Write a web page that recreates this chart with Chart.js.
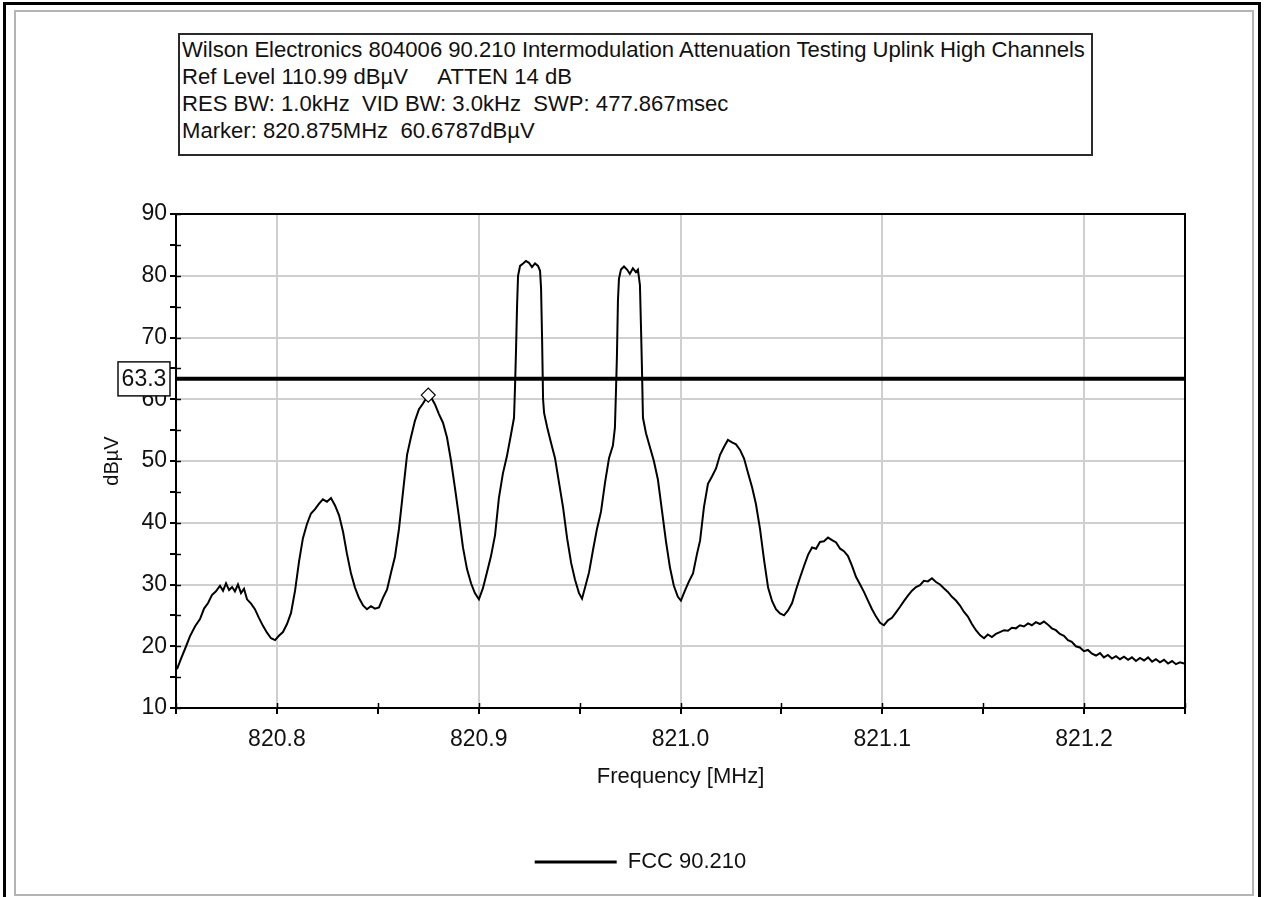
<!DOCTYPE html>
<html>
<head>
<meta charset="utf-8">
<title>Intermodulation Attenuation Testing</title>
<script src="https://cdn.jsdelivr.net/npm/chart.js@4.4.1/dist/chart.umd.min.js"></script>
<style>
  html, body { margin: 0; padding: 0; background: #fff; }
  body { width: 1267px; height: 897px; position: relative; overflow: hidden; font-family: "Liberation Sans", Arial, sans-serif; }
  #c { position: absolute; left: 0; top: 0; }
  .frame-outer { position: absolute; left: 3px; top: 2px; width: 1252px; height: 900px; border: 3px solid #000; border-bottom: none; pointer-events: none; }
  .frame-inner { position: absolute; left: 14px; top: 10px; width: 1236px; height: 882px; border: 2px solid #b4b4b4; pointer-events: none; }
  #info { position: absolute; left: 178px; top: 33px; width: 909px; height: 118px; border: 2px solid #2a2a2a; background: #fff; color: #111; padding: 1px 0 0 2px; box-sizing: content-box; white-space: nowrap; overflow: hidden; }
  #info div { line-height: 27px; height: 27px; }
</style>
</head>
<body>
<canvas id="c" width="1267" height="897"></canvas>
<div class="frame-outer"></div>
<div class="frame-inner"></div>
<div id="info"></div>
<script>
// Analyzer header lines
const headerLines = [
  'Wilson Electronics 804006 90.210 Intermodulation Attenuation Testing Uplink High Channels',
  'Ref Level 110.99 dBµV     ATTEN 14 dB',
  'RES BW: 1.0kHz  VID BW: 3.0kHz  SWP: 477.867msec',
  'Marker: 820.875MHz  60.6787dBµV'
];

// Measured trace: frequency (MHz) and level (dBµV)
const freqMHz = [
  820.7505, 820.7525, 820.7550, 820.7569, 820.7594, 820.7619, 820.7639, 820.7659, 820.7678, 820.7698,
  820.7718, 820.7733, 820.7748, 820.7763, 820.7778, 820.7792, 820.7807, 820.7822, 820.7837, 820.7852,
  820.7872, 820.7891, 820.7911, 820.7931, 820.7951, 820.7971, 820.7991, 820.8010, 820.8030, 820.8050,
  820.8070, 820.8090, 820.8110, 820.8129, 820.8149, 820.8169, 820.8189, 820.8209, 820.8228, 820.8248,
  820.8268, 820.8288, 820.8308, 820.8328, 820.8347, 820.8367, 820.8387, 820.8407, 820.8427, 820.8446,
  820.8466, 820.8486, 820.8506, 820.8525, 820.8546, 820.8566, 820.8585, 820.8605, 820.8625, 820.8645,
  820.8664, 820.8684, 820.8704, 820.8724, 820.8744, 820.8754, 820.8764, 820.8783, 820.8803, 820.8823,
  820.8843, 820.8863, 820.8883, 820.8902, 820.8922, 820.8942, 820.8962, 820.8981, 820.9001, 820.9021,
  820.9041, 820.9061, 820.9081, 820.9100, 820.9120, 820.9140, 820.9160, 820.9175, 820.9180, 820.9185,
  820.9190, 820.9195, 820.9205, 820.9220, 820.9234, 820.9249, 820.9264, 820.9279, 820.9294, 820.9304,
  820.9309, 820.9314, 820.9319, 820.9324, 820.9339, 820.9358, 820.9378, 820.9398, 820.9418, 820.9438,
  820.9458, 820.9477, 820.9497, 820.9512, 820.9527, 820.9547, 820.9566, 820.9586, 820.9606, 820.9626,
  820.9646, 820.9665, 820.9675, 820.9680, 820.9685, 820.9690, 820.9695, 820.9705, 820.9720, 820.9735,
  820.9749, 820.9764, 820.9779, 820.9789, 820.9799, 820.9804, 820.9809, 820.9814, 820.9829, 820.9849,
  820.9868, 820.9888, 820.9908, 820.9928, 820.9948, 820.9967, 820.9987, 821.0002, 821.0022, 821.0042,
  821.0062, 821.0082, 821.0097, 821.0116, 821.0136, 821.0156, 821.0176, 821.0196, 821.0216, 821.0235,
  821.0255, 821.0275, 821.0295, 821.0315, 821.0335, 821.0355, 821.0374, 821.0394, 821.0414, 821.0434,
  821.0454, 821.0473, 821.0493, 821.0513, 821.0533, 821.0553, 821.0573, 821.0592, 821.0612, 821.0632,
  821.0652, 821.0672, 821.0691, 821.0711, 821.0731, 821.0751, 821.0771, 821.0791, 821.0810, 821.0830,
  821.0850, 821.0870, 821.0890, 821.0909, 821.0929, 821.0949, 821.0969, 821.0989, 821.1008, 821.1028,
  821.1048, 821.1068, 821.1088, 821.1107, 821.1127, 821.1147, 821.1167, 821.1187, 821.1206, 821.1226,
  821.1246, 821.1266, 821.1286, 821.1305, 821.1325, 821.1345, 821.1365, 821.1385, 821.1404, 821.1424,
  821.1444, 821.1464, 821.1484, 821.1504, 821.1523, 821.1543, 821.1563, 821.1583, 821.1603, 821.1623,
  821.1642, 821.1662, 821.1682, 821.1702, 821.1722, 821.1741, 821.1761, 821.1781, 821.1801, 821.1821,
  821.1840, 821.1860, 821.1880, 821.1900, 821.1920, 821.1939, 821.1959, 821.1979, 821.1999, 821.2019,
  821.2039, 821.2059, 821.2079, 821.2098, 821.2118, 821.2138, 821.2158, 821.2178, 821.2198, 821.2218,
  821.2237, 821.2257, 821.2277, 821.2297, 821.2317, 821.2337, 821.2356, 821.2376, 821.2396, 821.2416,
  821.2436, 821.2455, 821.2475, 821.2495
];
const levelDbuV = [
  16.3, 18.0, 20.0, 21.6, 23.2, 24.4, 26.1, 27.0, 28.3, 28.9,
  29.8, 29.0, 30.2, 29.1, 29.6, 28.9, 30.0, 28.6, 29.3, 27.6,
  26.9, 26.0, 24.6, 23.3, 22.2, 21.3, 21.0, 21.7, 22.3, 23.6,
  25.4, 29.0, 33.8, 37.5, 39.8, 41.5, 42.2, 43.1, 43.8, 43.4,
  44.0, 42.8, 41.2, 38.5, 35.0, 31.8, 29.5, 27.8, 26.6, 26.0,
  26.5, 26.1, 26.3, 27.8, 29.2, 32.0, 34.5, 39.0, 45.0, 51.0,
  53.8, 56.5, 58.4, 59.3, 60.4, 60.7, 60.3, 59.2, 57.6, 56.2,
  53.8, 50.0, 45.5, 41.0, 36.0, 32.5, 30.2, 28.6, 27.6, 29.4,
  32.0, 34.6, 38.0, 44.0, 48.0, 50.8, 54.3, 57.0, 62.0, 68.0,
  75.0, 80.0, 81.6, 82.0, 82.4, 82.1, 81.4, 82.0, 81.6, 80.8,
  78.0, 70.0, 60.0, 57.8, 55.5, 53.0, 50.5, 46.5, 42.5, 37.5,
  33.5, 30.8, 28.6, 27.7, 29.5, 32.0, 35.5, 39.0, 41.8, 46.5,
  50.5, 52.5, 55.4, 61.0, 67.0, 76.0, 79.5, 81.0, 81.5, 81.0,
  80.3, 81.2, 80.6, 81.0, 78.5, 72.0, 65.0, 57.0, 54.5, 52.2,
  50.0, 47.0, 42.0, 37.0, 32.7, 29.8, 28.0, 27.4, 29.0, 30.5,
  31.8, 35.0, 37.1, 42.5, 46.3, 47.5, 48.8, 51.0, 52.3, 53.4,
  53.0, 52.7, 51.8, 50.4, 48.0, 45.7, 43.0, 39.0, 34.0, 29.5,
  27.3, 26.0, 25.3, 25.0, 25.8, 27.0, 29.2, 31.1, 33.0, 34.8,
  36.0, 35.8, 36.9, 37.0, 37.6, 37.2, 36.8, 35.8, 35.4, 34.6,
  33.0, 31.2, 30.0, 28.8, 27.4, 26.0, 24.8, 23.8, 23.4, 24.2,
  24.6, 25.5, 26.4, 27.3, 28.2, 29.0, 29.6, 29.9, 30.6, 30.5,
  31.0, 30.4, 30.0, 29.4, 28.8, 28.0, 27.4, 26.6, 25.6, 24.8,
  23.6, 22.6, 21.8, 21.3, 21.9, 21.5, 22.0, 22.3, 22.6, 22.5,
  23.0, 22.9, 23.4, 23.2, 23.7, 23.4, 23.9, 23.6, 24.0, 23.5,
  22.9, 22.6, 22.0, 21.7, 21.0, 20.7, 20.0, 19.8, 19.2, 19.4,
  18.8, 18.5, 18.9, 18.2, 18.6, 18.0, 18.4, 17.9, 18.3, 17.8,
  18.2, 17.6, 18.1, 17.7, 18.2, 17.5, 17.9, 17.4, 17.8, 17.2,
  17.6, 17.1, 17.4, 17.2
];

// FCC 90.210 limit line
const fccLabel = 'FCC 90.210';
const fccLimit = 63.3;
const limitFreqMHz = [820.75, 821.25];

// Marker readout
const markerFreqMHz = 820.875;
const markerLevel = 60.6787;

// Axis ranges and tick labels
const xRange = [820.75, 821.25];
const yRange = [10, 90];
const xTickLabels = ['820.8', '820.9', '821.0', '821.1', '821.2'];
const xTitle = 'Frequency [MHz]';
const yTitle = 'dBµV';

// ---- header box ----
(function buildHeader() {
  const box = document.getElementById('info');
  const m = document.createElement('canvas').getContext('2d');
  m.font = '20px "Liberation Sans", Arial, sans-serif';
  const widest = Math.max(...headerLines.map(t => m.measureText(t).width));
  const size = 20 * 905 / widest;
  box.style.fontSize = size.toFixed(2) + 'px';
  headerLines.forEach(t => {
    const d = document.createElement('div');
    d.textContent = t;
    d.style.whiteSpace = 'pre';
    box.appendChild(d);
  });
})();

// ---- chart ----
Chart.defaults.font.family = '"Liberation Sans", Arial, sans-serif';
Chart.defaults.color = '#111';

const isMajorX = v => Math.abs(v * 10 - Math.round(v * 10)) < 1e-6;
const isMajorY = v => Math.abs(v % 10) < 1e-6;
const GRID = '#cfcfcf';
const CLEAR = 'rgba(0,0,0,0)';

// Plot frame, inner tick marks and the limit value tag
const plotDecor = {
  id: 'plotDecor',
  afterDatasetsDraw(chart) {
    const {ctx, chartArea: a, scales: {x, y}} = chart;
    ctx.save();
    ctx.strokeStyle = '#000';
    ctx.lineWidth = 2;
    ctx.strokeRect(a.left, a.top, a.right - a.left, a.bottom - a.top);
    ctx.lineWidth = 1.5;
    ctx.beginPath();
    y.ticks.forEach(t => {
      const py = Math.round(y.getPixelForValue(t.value)) + 0.5;
      ctx.moveTo(a.left, py); ctx.lineTo(a.left + 5, py);
    });
    x.ticks.forEach(t => {
      const px = Math.round(x.getPixelForValue(t.value)) + 0.5;
      ctx.moveTo(px, a.bottom); ctx.lineTo(px, a.bottom - 5);
    });
    ctx.stroke();
    ctx.restore();
  },
  afterDraw(chart) {
    const {ctx, chartArea: a, scales: {y}} = chart;
    const py = y.getPixelForValue(fccLimit);
    const w = 52, h = 34;
    const bx = a.left - 58, by = py - h / 2;
    ctx.save();
    ctx.fillStyle = '#fff';
    ctx.fillRect(bx, by, w, h);
    ctx.strokeStyle = '#111';
    ctx.lineWidth = 1.5;
    ctx.strokeRect(bx, by, w, h);
    ctx.fillStyle = '#111';
    ctx.font = '23px "Liberation Sans", Arial, sans-serif';
    ctx.textAlign = 'center';
    ctx.textBaseline = 'middle';
    ctx.fillText(fccLimit.toFixed(1), bx + w / 2, py + 1);
    ctx.restore();
  }
};

new Chart(document.getElementById('c'), {
  type: 'line',
  data: {
    datasets: [
      {
        label: 'Trace',
        data: freqMHz.map((f, i) => ({x: f, y: levelDbuV[i]})),
        borderColor: '#000',
        borderWidth: 2,
        pointRadius: 0,
        tension: 0,
        order: 2
      },
      {
        label: fccLabel,
        data: limitFreqMHz.map(f => ({x: f, y: fccLimit})),
        borderColor: '#000',
        backgroundColor: '#000',
        borderWidth: 4,
        pointRadius: 0,
        order: 1
      },
      {
        label: 'Marker',
        data: [{x: markerFreqMHz, y: markerLevel}],
        showLine: false,
        pointStyle: 'rectRot',
        pointRadius: 7,
        pointBackgroundColor: '#fff',
        pointBorderColor: '#000',
        pointBorderWidth: 1.2,
        order: 0
      }
    ]
  },
  options: {
    responsive: false,
    animation: false,
    devicePixelRatio: 1,
    layout: {padding: {left: 96, right: 82, top: 214, bottom: 14}},
    plugins: {
      tooltip: {enabled: false},
      legend: {
        position: 'bottom',
        labels: {
          filter: item => item.text === fccLabel,
          boxWidth: 82,
          boxHeight: 3,
          padding: 10,
          color: '#111',
          font: {size: 22},
          generateLabels(chart) {
            const items = Chart.defaults.plugins.legend.labels.generateLabels(chart);
            items.forEach(it => { it.lineWidth = 0; it.fillStyle = '#000'; });
            return items;
          }
        }
      }
    },
    scales: {
      x: {
        type: 'linear',
        min: xRange[0],
        max: xRange[1],
        afterFit(scale) { scale.height = 133; },
        ticks: {
          stepSize: 0.05,
          autoSkip: false,
          maxRotation: 0,
          padding: 12,
          font: {size: 23},
          callback: v => {
            if (!isMajorX(v)) return '';
            const s = v.toFixed(1);
            return xTickLabels.includes(s) ? s : '';
          }
        },
        grid: {
          color: c => (c.tick && isMajorX(c.tick.value) && c.tick.value > xRange[0] && c.tick.value < xRange[1]) ? GRID : CLEAR,
          tickColor: '#000',
          tickLength: 6,
          lineWidth: 2
        },
        border: {color: '#000', width: 2},
        title: {display: true, text: xTitle, font: {size: 22}, color: '#111', padding: {top: 0, bottom: 51}}
      },
      y: {
        type: 'linear',
        min: yRange[0],
        max: yRange[1],
        afterFit(scale) { scale.width = 80; },
        ticks: {
          stepSize: 5,
          autoSkip: false,
          padding: 3,
          font: {size: 23},
          callback: v => isMajorY(v) ? String(v) : ''
        },
        grid: {
          color: c => (c.tick && isMajorY(c.tick.value) && c.tick.value > yRange[0] && c.tick.value < yRange[1]) ? GRID : CLEAR,
          tickColor: '#000',
          tickLength: 6,
          lineWidth: 2
        },
        border: {color: '#000', width: 2},
        title: {display: true, text: yTitle, font: {size: 20}, color: '#111', padding: {top: 4, bottom: 0}}
      }
    }
  },
  plugins: [plotDecor]
});
</script>
</body>
</html>
